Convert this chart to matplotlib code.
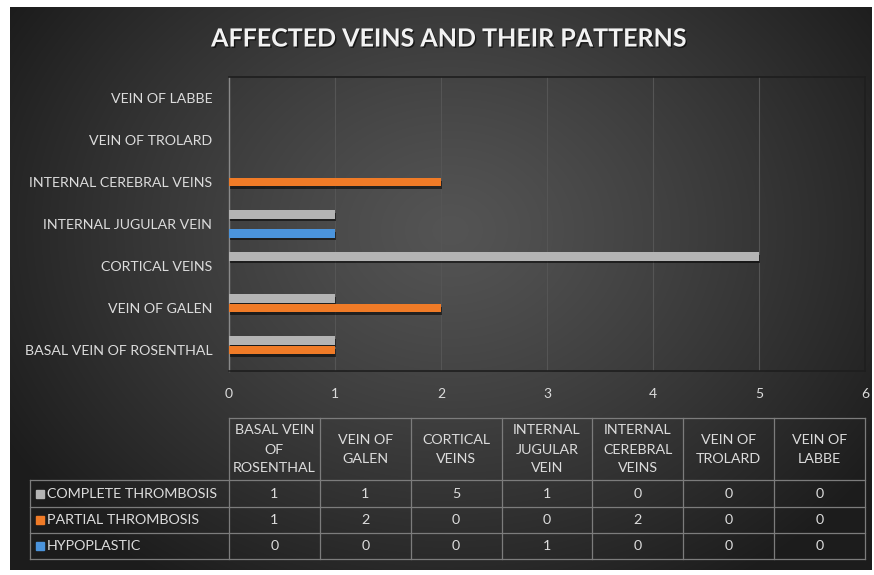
import numpy as np
import matplotlib
matplotlib.use("Agg")
import matplotlib.pyplot as plt
import matplotlib.patheffects as pe

# ========== data ==========
categories = ["BASAL VEIN OF ROSENTHAL", "VEIN OF GALEN", "CORTICAL VEINS",
              "INTERNAL JUGULAR VEIN", "INTERNAL CEREBRAL VEINS",
              "VEIN OF TROLARD", "VEIN OF LABBE"]
header_labels = ["BASAL VEIN\nOF\nROSENTHAL", "VEIN OF\nGALEN", "CORTICAL\nVEINS",
                 "INTERNAL\nJUGULAR\nVEIN", "INTERNAL\nCEREBRAL\nVEINS",
                 "VEIN OF\nTROLARD", "VEIN OF\nLABBE"]
series_names = ["COMPLETE THROMBOSIS", "PARTIAL THROMBOSIS", "HYPOPLASTIC"]
complete = [1, 1, 5, 1, 0, 0, 0]
partial = [1, 2, 0, 0, 2, 0, 0]
hypoplastic = [0, 0, 0, 1, 0, 0, 0]
x_ticks = [0, 1, 2, 3, 4, 5, 6]

colors = ["#b4b4b4", "#f07b27", "#4b94dc"]
series = [complete, partial, hypoplastic]

plt.rcParams['font.family'] = ['Lato', 'DejaVu Sans']
W, H = 874, 575
fig = plt.figure(figsize=(W / 100, H / 100), dpi=100, facecolor="white")

# ---- background with radial gradient (pixel coordinates) ----
bg = fig.add_axes([0, 0, 1, 1], zorder=0)
bg.set_xlim(0, W)
bg.set_ylim(H, 0)
bg.axis("off")
yy, xx = np.mgrid[0:H, 0:W]
r = np.sqrt(((xx - 450) / 520.0) ** 2 + ((yy - 230) / 420.0) ** 2)
val = 84 - (84 - 28) * np.clip(r, 0, 1) ** 1.2
img = np.dstack([val, val, val]) / 255.0
bx0, bx1, by0, by1 = 10, 872, 7, 570
bg.imshow(img[by0:by1, bx0:bx1], extent=(bx0, bx1, by1, by0), aspect="auto",
          interpolation="bilinear", zorder=0)

# ---- title ----
bg.text(449, 39, "AFFECTED VEINS AND THEIR PATTERNS", color="#f2f2f2",
        fontsize=18, fontweight="bold", ha="center", va="center", zorder=3,
        path_effects=[pe.withSimplePatchShadow(offset=(1, -1), shadow_rgbFace="black", alpha=0.6)])

# ---- main bar chart ----
px_l, px_r, px_t, px_b = 229, 865, 77, 371
ax = fig.add_axes([px_l / W, 1 - px_b / H, (px_r - px_l) / W, (px_b - px_t) / H], zorder=2)
ax.patch.set_alpha(0)
y = np.arange(len(categories))
step = 0.226
offsets = [step, 0, -step]
for vals, off, col in zip(series, offsets, colors):
    ax.barh(y + off, vals, height=0.2, color=col, zorder=3,
            path_effects=[pe.withSimplePatchShadow(offset=(1, -2), shadow_rgbFace="black", alpha=0.55)])
ax.set_xlim(x_ticks[0], x_ticks[-1])
ax.set_ylim(-0.5, len(categories) - 0.5)
ax.set_xticks(x_ticks)
ax.set_yticks(y)
ax.set_yticklabels(categories)
ax.grid(axis="x", color="#555555", linewidth=0.8, zorder=0)
ax.tick_params(axis="y", length=0, pad=12, labelsize=10.2, labelcolor="#dcdcdc")
ax.tick_params(axis="x", length=0, pad=12, labelsize=10, labelcolor="#dcdcdc")
for s in ["top", "right", "bottom"]:
    ax.spines[s].set_color("#1e1e1e")
    ax.spines[s].set_linewidth(1.2)
ax.spines["left"].set_color("#8a8a8a")
ax.spines["left"].set_linewidth(1.0)

# ---- data table below the chart ----
ncol = len(categories)
col_edges = np.linspace(px_l, px_r, ncol + 1)
lab_x0 = 30
row_edges = [418, 480, 507, 533, 559]
lc = "#7c7c7c"
lw = 0.9
fs = 10.3
# horizontal lines
bg.plot([px_l, px_r], [row_edges[0], row_edges[0]], color=lc, lw=lw, zorder=3)
for yr in row_edges[1:]:
    bg.plot([lab_x0, px_r], [yr, yr], color=lc, lw=lw, zorder=3)
# vertical lines
bg.plot([lab_x0, lab_x0], [row_edges[1], row_edges[-1]], color=lc, lw=lw, zorder=3)
for xc in col_edges:
    bg.plot([xc, xc], [row_edges[0], row_edges[-1]], color=lc, lw=lw, zorder=3)

centers = (col_edges[:-1] + col_edges[1:]) / 2
for xc, lab in zip(centers, header_labels):
    bg.text(xc, (row_edges[0] + row_edges[1]) / 2 + 0.5, lab, color="#dcdcdc", fontsize=fs,
            ha="center", va="center", linespacing=1.7, zorder=4)

for i, (name, vals, col) in enumerate(zip(series_names, series, colors)):
    yc = (row_edges[i + 1] + row_edges[i + 2]) / 2
    bg.add_patch(plt.Rectangle((36, yc - 4), 8, 8, color=col, zorder=4))
    bg.text(47, yc + 0.5, name, color="#dcdcdc", fontsize=fs, ha="left", va="center", zorder=4)
    for xc, v in zip(centers, vals):
        bg.text(xc, yc + 0.5, str(v), color="#dcdcdc", fontsize=fs, ha="center", va="center", zorder=4)

fig.savefig("out.png", dpi=100, facecolor="white")
